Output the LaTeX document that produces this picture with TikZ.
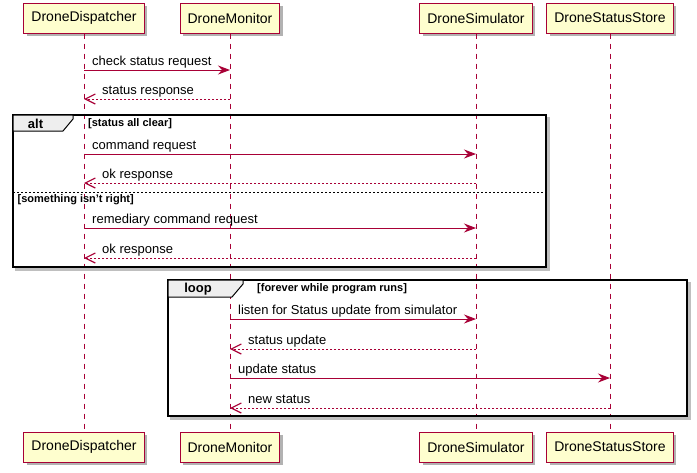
\documentclass[tikz,border=0pt]{standalone}
\usepackage{fontspec}
\setmainfont{Liberation Sans}
\usetikzlibrary{arrows.meta,shadows,positioning}
\definecolor{umlred}{HTML}{A80036}
\definecolor{umlfill}{HTML}{FEFECE}
\definecolor{umltab}{HTML}{EEEEEE}

\begin{document}
\begin{tikzpicture}[
x=1pt, y=-1pt,
part/.style={draw=umlred, fill=umlfill, line width=1pt,
             minimum height=30pt, inner xsep=7.5pt,
             font=\fontsize{14}{16}\selectfont,
             drop shadow={shadow xshift=3pt, shadow yshift=-3pt, fill=black, opacity=0.3}},
life/.style={umlred, dash pattern=on 5pt off 5pt, line width=0.8pt},
req/.style={umlred, line width=0.9pt, -{Stealth[length=12pt, width=9pt, inset=4pt]}},
resp/.style={umlred, line width=0.9pt, dash pattern=on 2pt off 2pt,
             -{Straight Barb[length=10pt, width=10pt, line width=1.2pt]}},
lbl/.style={font=\fontsize{13}{15}\selectfont, inner sep=0pt, anchor=base west},
frame/.style={line width=1.5pt},
fshadow/.style={black!25, line width=2.5pt},
tab/.style={line width=1pt, fill=umltab},
kind/.style={font=\bfseries\fontsize{13}{15}\selectfont, inner sep=0pt, anchor=base},
guard/.style={font=\bfseries\fontsize{11}{13}\selectfont, inner sep=0pt, anchor=base west}
]
\useasboundingbox (0,0) rectangle (697,472);

% participants
\foreach \n/\x/\txt in {dd/84/DroneDispatcher, mon/230/DroneMonitor,
                        sim/476/DroneSimulator, st/610/DroneStatusStore} {
  \node[part] (\n) at (\x,18) {\txt};
  \node[part] (\n-b) at (\x,447) {\txt};
  \draw[life] (\n) -- (\n-b);
}

% alt
\draw[fshadow] (548.5,117) -- (548.5,269.5) -- (15,269.5);
\draw[frame] (13,115) rectangle (546,267);
\draw[tab] (13,115) -- (73,115) -- (73,119) -- (63,131) -- (13,131) -- cycle;
\node[kind] (alt) at (35.5,128) {alt};
\node[guard] (altg) at (88,126.5) {[status all clear]};
\draw[dash pattern=on 2pt off 2pt, line width=0.8pt] (13,192) -- (546,192);
\node[guard] (elseg) at (17.5,202) {[something isn't right]};

% loop
\draw[fshadow] (689.5,282) -- (689.5,418.5) -- (170,418.5);
\draw[frame] (168,280) rectangle (687,416);
\draw[tab] (168,280) -- (243,280) -- (243,284) -- (232,297) -- (168,297) -- cycle;
\node[kind] (loop) at (198,292) {loop};
\node[guard] (loopg) at (257,291.5) {[forever while program runs]};

% requests
\foreach \f/\t/\y/\txt [count=\i] in {dd/mon/70/check status request,
    dd/sim/154/command request, dd/sim/228/remediary command request,
    mon/sim/319/listen for Status update from simulator, mon/st/378/update status} {
  \coordinate (rq\i) at (0,\y);
  \draw[req] (\f |- rq\i) -- (\t |- rq\i);
  \node[lbl, xshift=8pt, yshift=5pt] (rql\i) at (\f |- rq\i) {\txt};
}

% responses
\foreach \f/\t/\y/\txt [count=\i] in {mon/dd/99/status response,
    sim/dd/183/ok response, sim/dd/258/ok response,
    sim/mon/349/status update, st/mon/408/new status} {
  \coordinate (rs\i) at (0,\y);
  \draw[resp] (\f |- rs\i) -- (\t |- rs\i);
  \node[lbl, xshift=18pt, yshift=5pt] (rsl\i) at (\t |- rs\i) {\txt};
}

\end{tikzpicture}
\end{document}
